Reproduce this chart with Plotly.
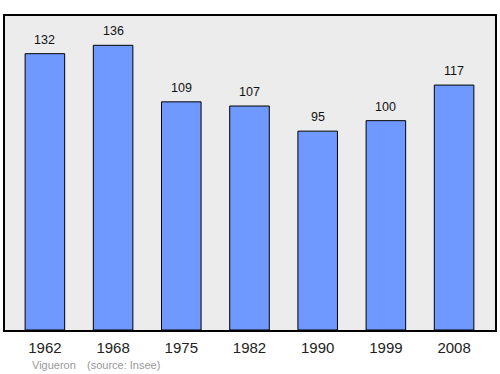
import plotly.graph_objects as go

years = ["1962", "1968", "1975", "1982", "1990", "1999", "2008"]
population = [132, 136, 109, 107, 95, 100, 117]

xs = list(range(len(years)))

fig = go.Figure()
fig.add_trace(go.Bar(
    x=xs, y=population, width=0.58,
    marker=dict(color="#7099ff", line=dict(color="#000000", width=1)),
    hoverinfo="skip",
))

for x, v in zip(xs, population):
    fig.add_annotation(x=x, y=v, text=str(v), showarrow=False, yshift=14,
                       font=dict(family="Liberation Sans, Arial", size=12.5, color="#111"))

fig.add_annotation(xref="paper", yref="paper", x=(30-5)/492, y=-35/314, xanchor="left", yanchor="middle",
                   text="Vigueron", showarrow=False,
                   font=dict(family="Liberation Sans, Arial", size=11, color="#999999"))
fig.add_annotation(xref="paper", yref="paper", x=(85-5)/492, y=-35/314, xanchor="left", yanchor="middle",
                   text="(source: Insee)", showarrow=False,
                   font=dict(family="Liberation Sans, Arial", size=11, color="#999999"))

fig.update_layout(
    width=500, height=374,
    margin=dict(l=5, r=3, t=16, b=44),
    paper_bgcolor="white", plot_bgcolor="#ececec",
    showlegend=False,
    xaxis=dict(range=[-0.585, 6.6], tickvals=xs, ticktext=years, showgrid=False, zeroline=False,
               showline=True, linecolor="black", linewidth=1.5, mirror=True, ticks="",
               ticklabelstandoff=3,
               tickfont=dict(family="Liberation Sans, Arial", size=15, color="#222")),
    yaxis=dict(range=[0, 150], showticklabels=False, showgrid=False, zeroline=False,
               showline=True, linecolor="black", linewidth=1.5, mirror=True, ticks=""),
)

fig.write_html("out.html")
